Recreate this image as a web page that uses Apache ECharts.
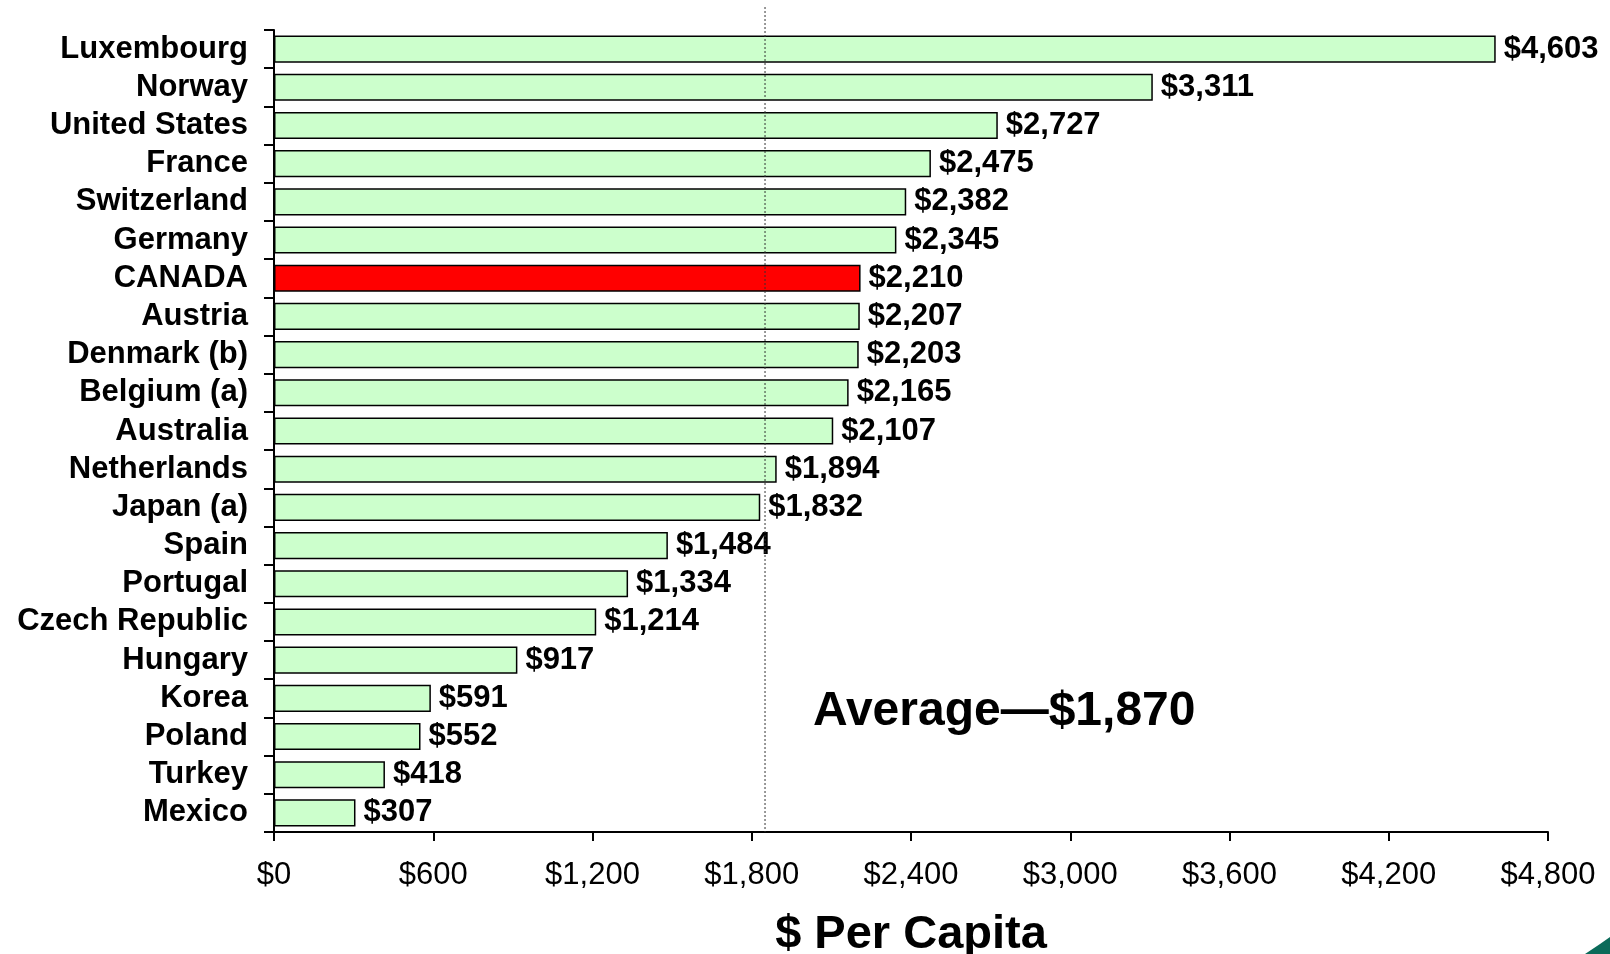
<!DOCTYPE html>
<html><head><meta charset="utf-8">
<script src="https://cdn.jsdelivr.net/npm/echarts@6/dist/echarts.min.js"></script>
<style>html,body{margin:0;padding:0;background:#fff}#c{width:1610px;height:954px}</style>
</head><body><div id="c"></div>
<script>
const countries = ["Luxembourg","Norway","United States","France","Switzerland","Germany","CANADA","Austria","Denmark (b)","Belgium (a)","Australia","Netherlands","Japan (a)","Spain","Portugal","Czech Republic","Hungary","Korea","Poland","Turkey","Mexico"];
const values = [4603,3311,2727,2475,2382,2345,2210,2207,2203,2165,2107,1894,1832,1484,1334,1214,917,591,552,418,307];
const highlight = ["CANADA"];
const averageLinePosition = [1850];
const averageText = ["Average\u2014$1,870"];
const xTicks = [0,600,1200,1800,2400,3000,3600,4200,4800];
const axisTitle = ["$ Per Capita"];

const fmt = v => '$' + v.toLocaleString('en-US');
const FONT = '"Liberation Sans", Arial, sans-serif';
const chart = echarts.init(document.getElementById('c'));
chart.setOption({
  animation: false,
  grid: {left: 274, right: 62, top: 30, bottom: 122, containLabel: false, outerBoundsMode: 'none'},
  xAxis: {
    type: 'value', min: xTicks[0], max: xTicks[xTicks.length-1], interval: xTicks[1]-xTicks[0],
    axisLine: {show: true, lineStyle: {color: '#000', width: 2}},
    axisTick: {show: true, length: 9, lineStyle: {color: '#000', width: 2}},
    splitLine: {show: false},
    axisLabel: {formatter: fmt, color: '#000', fontFamily: FONT, fontSize: 31, margin: 28},
    name: axisTitle[0], nameLocation: 'middle', nameGap: 80,
    nameTextStyle: {color: '#000', fontFamily: FONT, fontSize: 47, fontWeight: 'bold'}
  },
  yAxis: {
    type: 'category', data: countries, inverse: true,
    axisLine: {show: true, lineStyle: {color: '#000', width: 2}},
    axisTick: {show: true, length: 10, interval: 0, lineStyle: {color: '#000', width: 2}},
    axisLabel: {interval: 0, color: '#000', fontFamily: FONT, fontSize: 31, fontWeight: 'bold', margin: 26, padding: [4, 0, 0, 0]}
  },
  series: [{
    type: 'bar', barCategoryGap: '29%',
    data: values.map((v, i) => ({value: v, itemStyle: {color: highlight.includes(countries[i]) ? '#FF0000' : '#CCFFCC'}})),
    itemStyle: {borderColor: '#000', borderWidth: 1.5},
    label: {show: true, position: 'right', distance: 8, formatter: p => fmt(p.value), padding: [4, 0, 0, 0],
      color: '#000', fontFamily: FONT, fontSize: 31, fontWeight: 'bold'}
  }]
});
const xAvg = chart.convertToPixel({xAxisIndex: 0}, averageLinePosition[0]);
const yBottom = chart.convertToPixel({yAxisIndex: 0}, countries[countries.length-1]) + 19;
chart.setOption({
  graphic: [
    {type: 'line', z: 100, shape: {x1: xAvg, y1: 7, x2: xAvg, y2: yBottom},
     style: {stroke: '#333', lineWidth: 1, lineDash: [2, 2]}},
    {type: 'text', left: 813, top: 688, z: 100,
     style: {text: averageText[0], fill: '#000', font: 'bold 48px ' + FONT}},
    {type: 'polygon', z: 100, shape: {points: [[1610, 937], [1610, 954], [1585, 954], [1600, 944]]},
     style: {fill: '#0b6b5a'}}
  ]
});
</script></body></html>
